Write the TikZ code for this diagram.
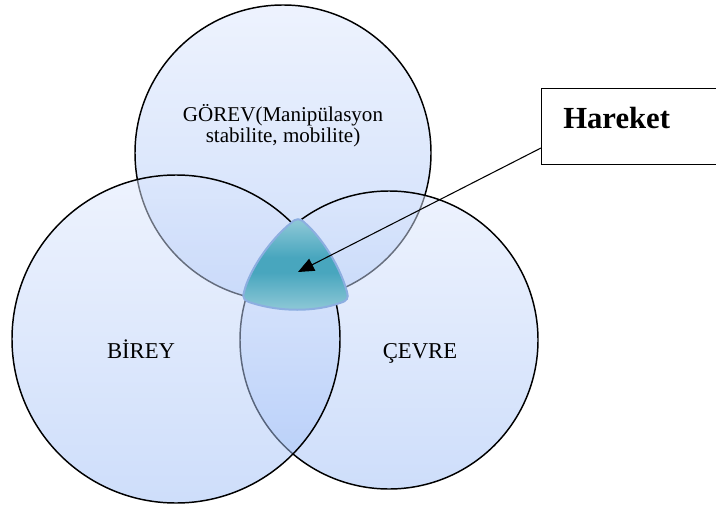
\documentclass[tikz,border=0pt]{standalone}
\usepackage{fontspec}
\setmainfont{Liberation Serif}
\usetikzlibrary{arrows.meta}
\definecolor{circtop}{RGB}{221,231,253}
\definecolor{circbot}{RGB}{157,189,246}
\definecolor{tealmid}{RGB}{72,166,190}
\definecolor{tealedge}{RGB}{146,202,216}
\definecolor{tealline}{RGB}{140,174,224}
\pgfdeclareverticalshading{tealshade}{100bp}{color(0bp)=(tealedge); color(25bp)=(tealedge); color(46bp)=(tealmid); color(54bp)=(tealmid); color(75bp)=(tealedge); color(100bp)=(tealedge)}
\begin{document}
\begin{tikzpicture}[x=0.75pt,y=0.75pt,yscale=-1,
    setcircle/.style={draw=black, line width=1.1pt, top color=circtop, bottom color=circbot, fill opacity=0.5},
    lbl/.style={inner sep=0.75pt, text=black}]
    \useasboundingbox (0,0) rectangle (716,506);
    
    %Shape: Circle [gorev] 
    \shadedraw [setcircle] (283,153) circle (148);
    %Shape: Circle [cevre] 
    \shadedraw [setcircle] (389,340) circle (149);
    %Shape: Circle [birey] 
    \shadedraw [setcircle] (176,339) circle (164);
    
    %Shape: Intersection [hareket alani] 
    \shadedraw [draw=tealline, line width=1.5pt, shading=tealshade]
      (291,223) .. controls (272,238) and (250,268) .. (244,292) .. controls (242,299) and (245,301) .. (252,303)
      .. controls (280,312) and (315,312) .. (340,303) .. controls (347,301) and (349,298) .. (347,292)
      .. controls (340,266) and (322,238) .. (305,223) .. controls (300,218) and (296,218) .. (291,223) -- cycle ;
    \coordinate (arrtip) at (298,272);
    
    %Shape: Rectangle [callout] 
    \draw (541,88) node [anchor=north west, draw=black, line width=1.1pt, minimum width=140pt, minimum height=57pt] (hbox) {};
    \coordinate (arrstart) at (541,148);
    %Straight Lines [arrow] 
    \draw [line width=0.8pt, -{Triangle[length=12pt,width=10pt]}] (arrstart) -- (arrtip) ;
    
    % Text Node
    \draw (562,128) node [anchor=base west][lbl] (hareket) {\fontsize{23}{27}\selectfont\bfseries Hareket};
    % Text Node
    \draw (283,126) node [lbl, align=center, font=\fontsize{15.8}{16}\selectfont] (gorev) {G\"OREV(Manip\"ulasyon\\ stabilite, mobilite)};
    % Text Node
    \draw (141,358) node [anchor=base][lbl] (birey) {\fontsize{17}{20}\selectfont B\.IREY};
    % Text Node
    \draw (420,358) node [anchor=base][lbl] (cevre) {\fontsize{17}{20}\selectfont \c{C}EVRE};
    
\end{tikzpicture}
\end{document}
